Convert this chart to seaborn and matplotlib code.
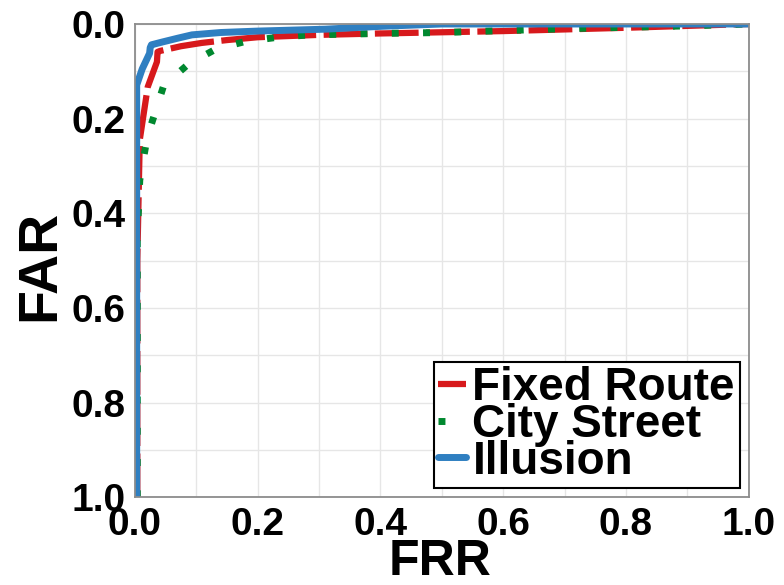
import numpy as np
import pandas as pd
import matplotlib
matplotlib.use("Agg")
import matplotlib.pyplot as plt
from matplotlib.ticker import MultipleLocator, FormatStrFormatter
import seaborn as sns

# ROC-style trade-off curves: false rejection rate vs. false acceptance rate
fixed_frr = [0.004, 0.004, 0.008, 0.021, 0.036, 0.037, 0.041, 0.075, 0.109, 0.15, 0.2, 0.3, 0.4, 0.6, 0.8, 0.95, 1.0]
fixed_far = [1.0, 0.5, 0.245, 0.133, 0.08, 0.059, 0.057, 0.047, 0.040, 0.034, 0.028, 0.023, 0.020, 0.015, 0.008, 0.002, 0.0]

city_frr = [0.004, 0.004, 0.008, 0.02, 0.047, 0.087, 0.132, 0.18, 0.233, 0.285, 0.4, 0.5, 0.7, 0.9, 1.0]
city_far = [1.0, 0.45, 0.33, 0.24, 0.13, 0.085, 0.053, 0.037, 0.028, 0.023, 0.020, 0.018, 0.010, 0.004, 0.0]

illusion_frr = [0.003, 0.003, 0.003, 0.012, 0.024, 0.025, 0.027, 0.045, 0.07, 0.093, 0.14, 0.2, 0.31, 0.4, 0.5, 1.0]
illusion_far = [1.0, 0.5, 0.129, 0.095, 0.062, 0.050, 0.044, 0.038, 0.030, 0.023, 0.018, 0.015, 0.011, 0.005, 0.0, 0.0]

series = ["Fixed Route", "City Street", "Illusion"]
colors = {"Fixed Route": "#d7191c", "City Street": "#00882f", "Illusion": "#2f7fc1"}

frames = []
for name, frr, far in [("Fixed Route", fixed_frr, fixed_far),
                       ("City Street", city_frr, city_far),
                       ("Illusion", illusion_frr, illusion_far)]:
    frames.append(pd.DataFrame({"FRR": frr, "FAR": far, "Dataset": name}))
df = pd.concat(frames, ignore_index=True)

sns.set_style("whitegrid")
plt.rcParams["font.family"] = ["Liberation Sans", "DejaVu Sans"]
plt.rcParams["font.weight"] = "bold"
plt.rcParams["text.color"] = "black"
plt.rcParams["axes.labelcolor"] = "black"
plt.rcParams["xtick.color"] = "black"
plt.rcParams["ytick.color"] = "black"

fig = plt.figure(figsize=(7.84, 5.85), dpi=100)
ax = fig.add_axes([0.172, 0.150, 0.783, 0.809])

styles = {
    "Fixed Route": dict(dashes=(7, 1.2), lw=4.5),
    "City Street": dict(dashes=(1, 3.5), lw=5, dash_capstyle="butt"),
    "Illusion": dict(lw=5),
}
for name in series:
    sub = df[df["Dataset"] == name]
    st = dict(styles[name])
    lw = st.pop("lw")
    sns.lineplot(data=sub, x="FRR", y="FAR", sort=False, estimator=None,
                 color=colors[name], linewidth=lw, ax=ax, label=name, **st)

ax.set_xlim(0, 1)
ax.set_ylim(1, 0)
ax.xaxis.set_major_locator(MultipleLocator(0.2))
ax.yaxis.set_major_locator(MultipleLocator(0.2))
ax.xaxis.set_minor_locator(MultipleLocator(0.1))
ax.yaxis.set_minor_locator(MultipleLocator(0.1))
ax.xaxis.set_major_formatter(FormatStrFormatter("%.1f"))
ax.yaxis.set_major_formatter(FormatStrFormatter("%.1f"))
ax.grid(True, which="both", color="#e6e6e6", linewidth=1.0)
ax.set_axisbelow(True)
for sp in ax.spines.values():
    sp.set_color("#8c8c8c")
    sp.set_linewidth(1.3)
ax.tick_params(axis="both", which="major", direction="out", length=5, width=1.2,
               color="#8c8c8c", labelcolor="black", labelsize=28, pad=2)
ax.tick_params(axis="both", which="minor", length=0)
for lab in ax.get_xticklabels() + ax.get_yticklabels():
    lab.set_fontweight("bold")

ax.set_xlabel("FRR", fontsize=36, fontweight="bold")
ax.set_ylabel("FAR", fontsize=40, fontweight="bold")
ax.xaxis.set_label_coords(0.497, -0.088)
ax.yaxis.set_label_coords(-0.112, 0.49)

leg = ax.legend(loc="lower right", frameon=True, fancybox=False,
                edgecolor="black", framealpha=1, borderpad=0.1, labelspacing=-0.16,
                handlelength=0.6, handletextpad=0.15, borderaxespad=0.2,
                prop={"weight": "bold", "size": 33})
leg.get_frame().set_linewidth(1.5)
for t in leg.get_texts():
    t.set_color("black")

fig.savefig("out.png", dpi=100)
